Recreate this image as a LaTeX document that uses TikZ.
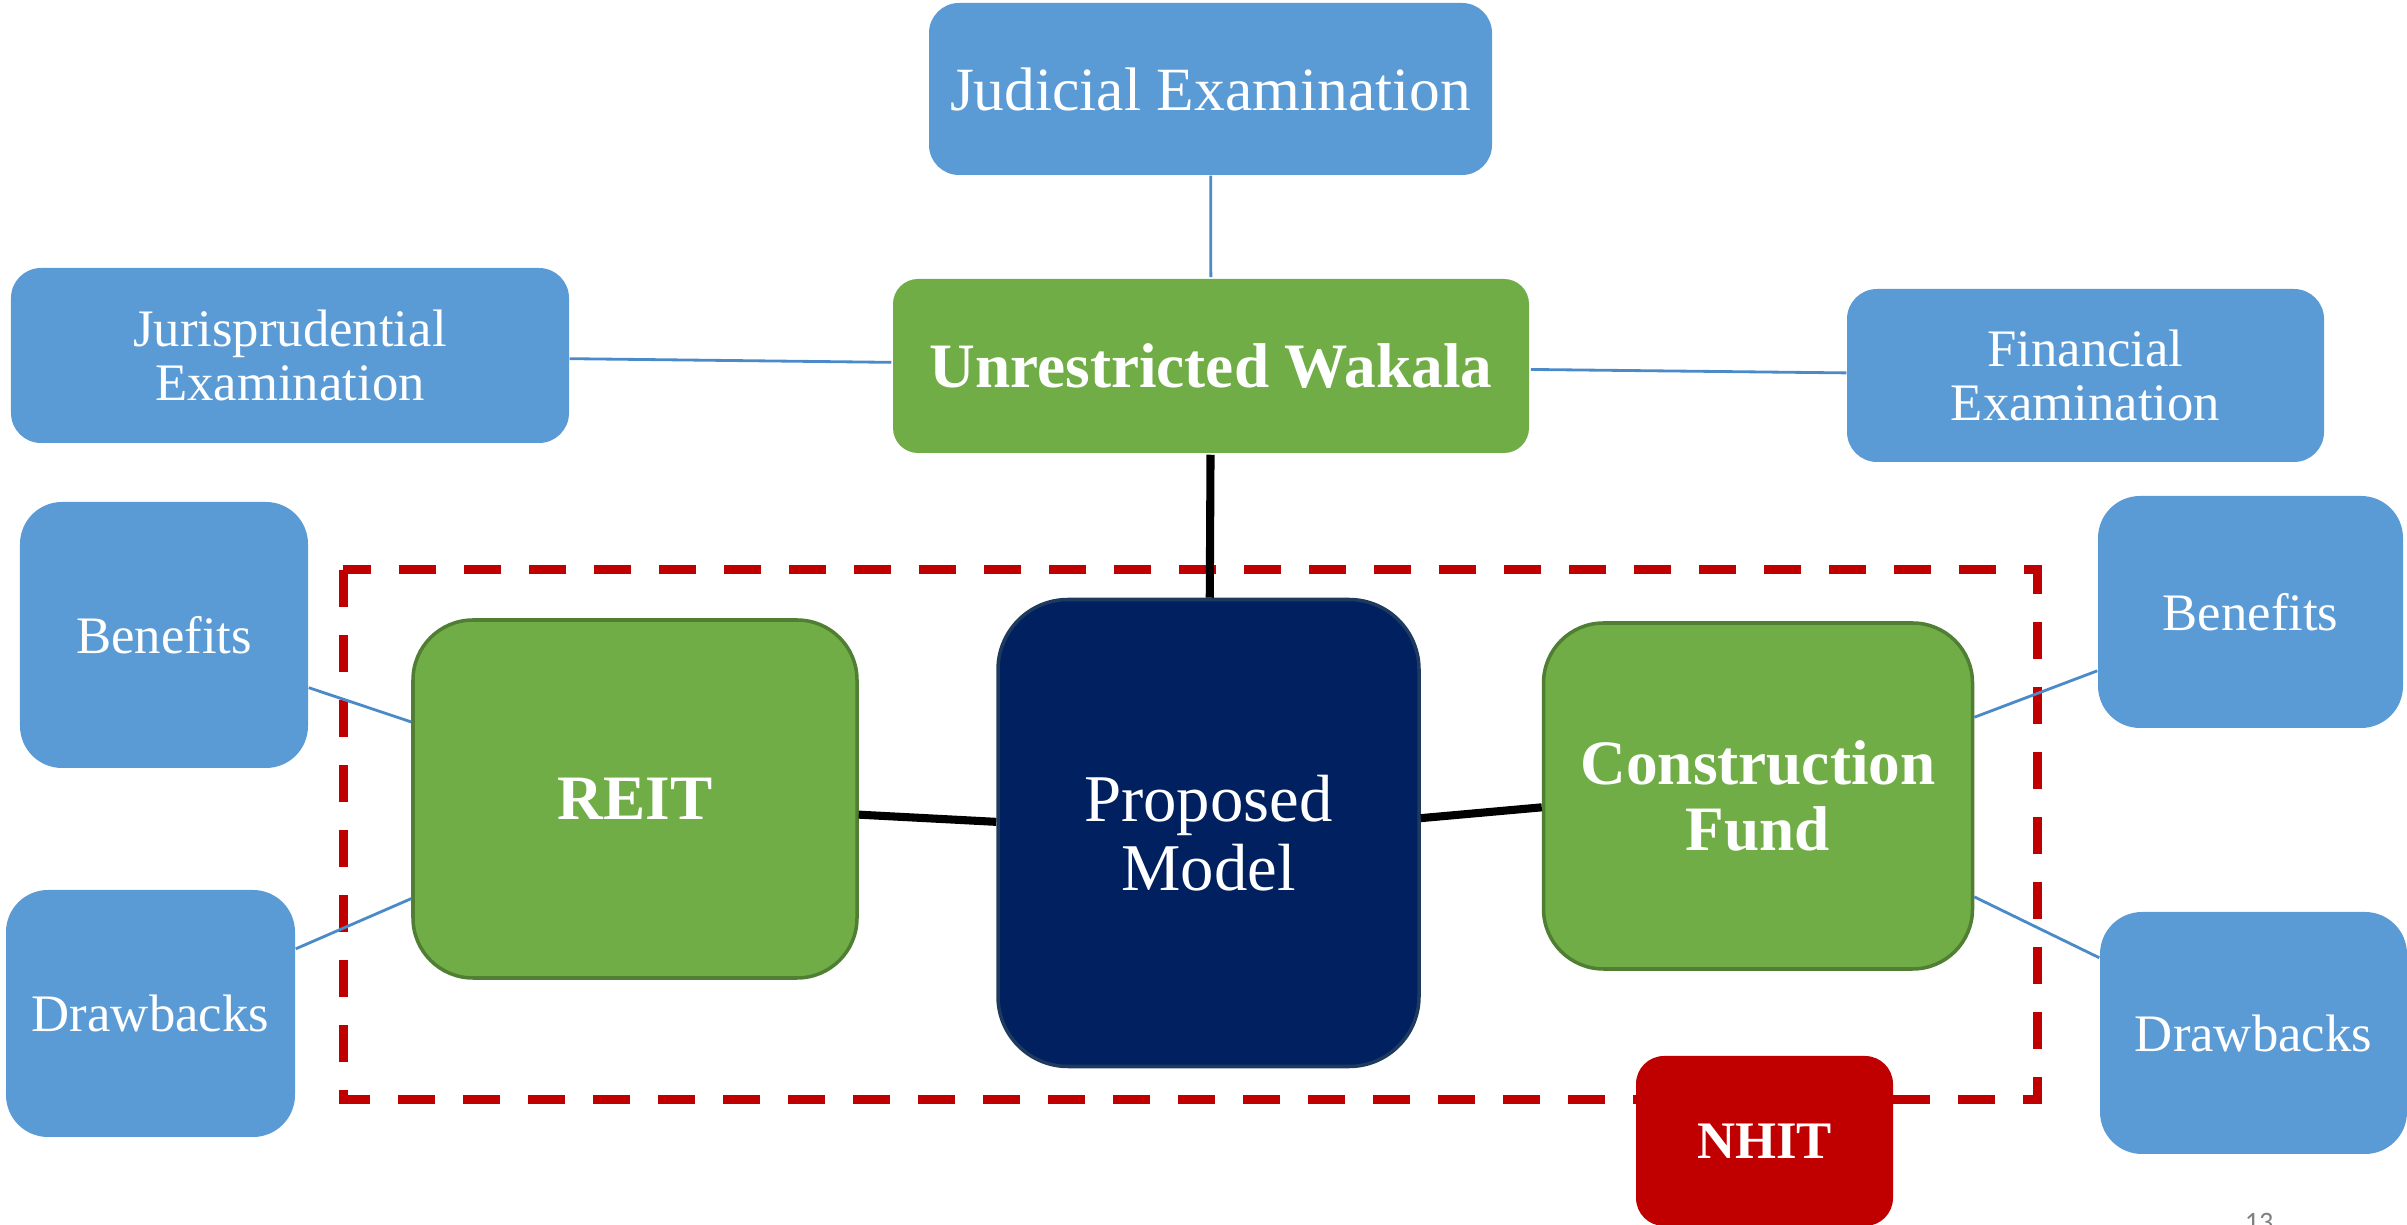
\documentclass[tikz,border=0pt]{standalone}
\usepackage{fontspec}
\setmainfont{Liberation Serif}
\newfontfamily\slidefont{Carlito}
\usetikzlibrary{positioning}
\definecolor{boxblue}{HTML}{5B9BD5}
\definecolor{boxgreen}{HTML}{70AD47}
\definecolor{greenedge}{HTML}{507E32}
\definecolor{modelnavy}{HTML}{002060}
\definecolor{navyedge}{HTML}{1F3A5F}
\definecolor{nhitred}{HTML}{C00000}
\definecolor{linkblue}{HTML}{4A8AC9}

\begin{document}
\begin{tikzpicture}[
    bluebox/.style={fill=boxblue, text=white, align=center, inner sep=0pt, rounded corners=0.3cm, font=\fontsize{15}{15.5}\selectfont},
    greenbox/.style={fill=boxgreen, draw=greenedge, line width=1pt, text=white, align=center, inner sep=0pt, rounded corners=0.6cm, font=\bfseries\fontsize{18}{18.8}\selectfont},
    bluelink/.style={linkblue, line width=0.8pt},
    blacklink/.style={black, line width=2.3pt}
]
    \useasboundingbox (0,0) rectangle (24.07,-12.25);
    \draw[nhitred, line width=0.09cm, dash pattern=on 0.37cm off 0.28cm] (3.43,-5.70) rectangle (20.37,-11.00);

    \node[bluebox, minimum width=5.63cm, minimum height=1.72cm, font=\fontsize{17.5}{18}\selectfont] (judicial) at (12.105,-0.89) {Judicial Examination};
    \node[greenbox, draw=none, rounded corners=0.25cm, minimum width=6.36cm, minimum height=1.74cm] (wakala) at (12.11,-3.66) {Unrestricted Wakala};
    \node[bluebox, minimum width=5.58cm, minimum height=1.75cm] (juris) at (2.90,-3.555) {Jurisprudential\\Examination};
    \node[bluebox, minimum width=4.77cm, minimum height=1.73cm] (financial) at (20.855,-3.755) {Financial\\Examination};
    \node[bluebox, rounded corners=0.42cm, minimum width=2.88cm, minimum height=2.66cm] (benefitsL) at (1.64,-6.35) {Benefits};
    \node[bluebox, rounded corners=0.42cm, minimum width=2.89cm, minimum height=2.47cm] (drawbacksL) at (1.505,-10.135) {Drawbacks};
    \node[bluebox, rounded corners=0.42cm, minimum width=3.05cm, minimum height=2.32cm] (benefitsR) at (22.505,-6.12) {Benefits};
    \node[bluebox, rounded corners=0.42cm, minimum width=3.07cm, minimum height=2.42cm] (drawbacksR) at (22.535,-10.33) {Drawbacks};
    \node[greenbox, minimum width=4.44cm, minimum height=3.58cm] (reit) at (6.35,-7.99) {REIT};
    \node[fill=modelnavy, draw=navyedge, line width=1pt, text=white, align=center, inner sep=0pt, rounded corners=0.7cm, minimum width=4.21cm, minimum height=4.67cm, font=\fontsize{19}{19.6}\selectfont] (model) at (12.085,-8.33) {Proposed\\Model};
    \node[greenbox, minimum width=4.29cm, minimum height=3.46cm] (fund) at (17.58,-7.96) {Construction\\Fund};
    \node[fill=nhitred, text=white, inner sep=0pt, rounded corners=0.28cm, minimum width=2.57cm, minimum height=1.70cm, font=\bfseries\fontsize{15}{15}\selectfont] (nhit) at (17.645,-11.41) {NHIT};
    \node[anchor=north, inner sep=0pt, text=gray, font=\slidefont\fontsize{8}{8}\selectfont] (pagenum) at (22.59,-12.13) {13};

    \draw[bluelink] (judicial) -- (wakala);
    \draw[bluelink] (juris) -- (wakala);
    \draw[bluelink] (wakala) -- (financial);
    \draw[blacklink] (wakala) -- (model);
    \draw[blacklink] (reit.-4) -- (model.177);
    \draw[blacklink] (model.4) -- (fund.183);
    \draw[bluelink] (benefitsL.-20) -- (reit.161);
    \draw[bluelink] (drawbacksL.24) -- (reit.-156);
    \draw[bluelink] (fund.20) -- (benefitsR.-159);
    \draw[bluelink] (fund.-25) -- (drawbacksR.154);
\end{tikzpicture}
\end{document}
